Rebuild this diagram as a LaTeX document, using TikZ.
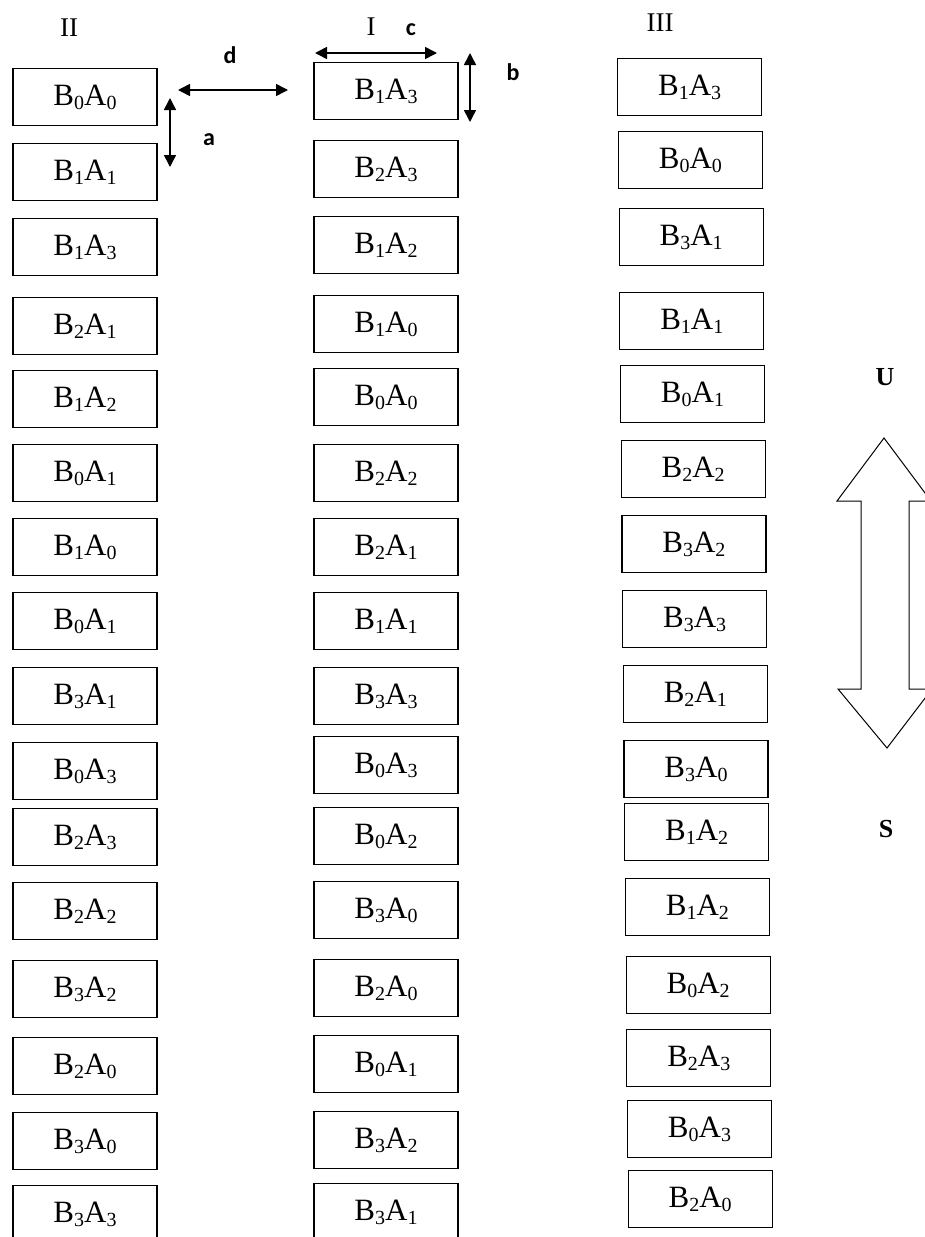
\documentclass[tikz,border=0pt]{standalone}
\usepackage{fontspec}
\setmainfont{Liberation Serif}
\newfontfamily\lblfont{Carlito}
\usetikzlibrary{arrows.meta}
\newcommand\sbx[1]{\raisebox{-4pt}{\fontsize{20}{20}\selectfont #1}}
\begin{document}
\begin{tikzpicture}[x=1pt,y=-1pt,
  cell/.style={draw, line width=1.2pt, minimum width=144pt, minimum height=57pt, inner sep=0pt, anchor=north, font=\fontsize{31}{31}\selectfont},
  colhead/.style={font=\fontsize{27}{27}\selectfont},
  dimlbl/.style={font=\lblfont\bfseries\fontsize{24}{24}\selectfont, anchor=base},
  dimarrow/.style={line width=1.5pt, {Triangle[length=12pt,width=12pt]}-{Triangle[length=12pt,width=12pt]}},
  dirlbl/.style={font=\bfseries\fontsize{26}{26}\selectfont}]
\useasboundingbox (0,0) rectangle (924,1237);
% column II
\foreach \y/\b/\a [count=\i] in {68/0/0,143/1/1,218/1/3,297/2/1,370/1/2,444/0/1,518/1/0,592/0/1,667/3/1,742/0/3,808/2/3,882/2/2,960/3/2,1037/2/0,1112/3/0,1185/3/3}
  \node[cell] (II-\i) at (85,\y) {B\sbx{\b}A\sbx{\a}};
% column I
\foreach \y/\b/\a [count=\i] in {62/1/3,140/2/3,216/1/2,295/1/0,368/0/0,444/2/2,518/2/1,592/1/1,667/3/3,736/0/3,807/0/2,881/3/0,959/2/0,1035/0/1,1111/3/2,1183/3/1}
  \node[cell] (I-\i) at (386,\y) {B\sbx{\b}A\sbx{\a}};
% column III
\foreach \y/\b/\a [count=\i] in {58/1/3,131/0/0,208/3/1,292/1/1,365/0/1,440/2/2,515/3/2,590/3/3,665/2/1,740/3/0,803/1/2,878/1/2,956/0/2,1029/2/3,1100/0/3,1170/2/0}{
  \pgfmathsetmacro\cx{689+0.7*\i}
  \node[cell] (III-\i) at (\cx,\y) {B\sbx{\b}A\sbx{\a}};
}
% column headings
\node[colhead] (hII) at (69,28) {II};
\node[colhead] (hI) at (371,27) {I};
\node[colhead] (hIII) at (660,23) {III};
% dimension markers
\coordinate (dL) at (178,90);
\coordinate (dR) at (288,90);
\coordinate (aT) at (170,98);
\coordinate (aB) at (170,167);
\coordinate (cL) at (315,53);
\coordinate (cR) at (437,53);
\coordinate (bT) at (470,53);
\coordinate (bB) at (470,122);
\draw[dimarrow] (dL) -- (dR);
\draw[dimarrow] (aT) -- (aB);
\draw[dimarrow] (cL) -- (cR);
\draw[dimarrow] (bT) -- (bB);
\node[dimlbl] (ld) at (230,63) {d};
\node[dimlbl] (la) at (209,145) {a};
\node[dimlbl] (lc) at (411,35) {c};
\node[dimlbl] (lb) at (513,80) {b};
% U / S double arrow
\node[dirlbl] (U) at (885,377) {U};
\node[dirlbl] (S) at (886,829) {S};
\draw[line width=1pt, line join=miter]
  (884,438) -- (931,501) -- (909,501) -- (909,689) -- (932,689) -- (887,748)
  -- (838,689) -- (861,689) -- (861,501) -- (837,501) -- cycle;
\end{tikzpicture}
\end{document}
